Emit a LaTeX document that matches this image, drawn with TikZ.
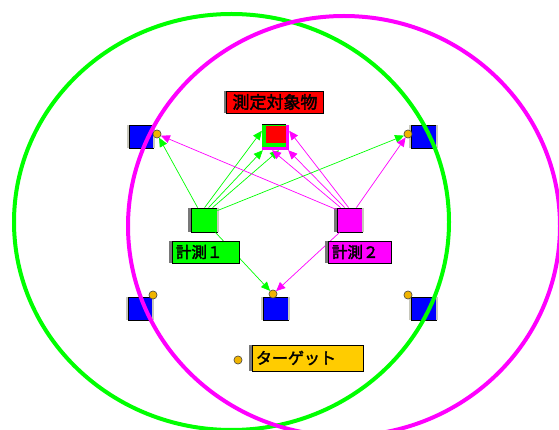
\documentclass[tikz,border=0pt]{standalone}
\usepackage{fontspec}
\usetikzlibrary{arrows.meta,calc}
\newfontfamily\jp[FakeBold=2.2]{Noto Sans CJK JP}
\definecolor{gr}{RGB}{0,255,0}
\definecolor{mag}{RGB}{255,0,255}
\definecolor{blu}{RGB}{0,0,255}
\definecolor{rd}{RGB}{255,0,0}
\definecolor{dotc}{RGB}{240,180,0}
\definecolor{tgt}{RGB}{255,204,0}
\definecolor{lgray}{RGB}{200,200,188}
\definecolor{dgray}{RGB}{120,120,120}
\begin{document}
\begin{tikzpicture}[x=1pt,y=-1pt,
  box/.style={rectangle, draw=black, line width=0.8pt, inner sep=0pt},
  blk/.style={box, fill=blu, minimum width=24pt, minimum height=23pt},
  lbl/.style={rectangle, draw=black, line width=0.8pt, inner ysep=0pt, inner xsep=4pt,
    minimum height=22pt, font=\jp\fontsize{15.5}{15.5}\selectfont, align=left, text=black},
  spot/.style={circle, fill=dotc, draw=black!70, line width=0.5pt, minimum size=8pt, inner sep=0pt},
  garr/.style={draw=gr, line width=0.7pt, -{Triangle[length=9pt,width=8pt]}},
  marr/.style={draw=mag, line width=0.7pt, -{Triangle[length=9pt,width=8pt]}},
  ring/.style={line width=4pt}
]
\useasboundingbox (0,0) rectangle (559,430);
\clip (0,0) rectangle (559,430);
\fill[white] (0,0) rectangle (559,430);

% reference blocks
\node[blk] (tl) at (141,136.5) {};
\node[blk, minimum width=25pt] (tr) at (423.5,136.5) {};
\node[blk] (bl) at (140,308.5) {};
\node[blk, minimum width=25pt] (bc) at (275.5,308.5) {};
\node[blk, minimum width=25pt] (br) at (423.5,308.5) {};
\foreach \n in {tl,tr,bl,bc,br}{
  \fill[lgray] ([xshift=-2pt]\n.north west) rectangle (\n.south west);
  \fill[lgray] (\n.north east) rectangle ([xshift=2pt]\n.south east);
}

% measured object
\node[rectangle, fill=mag, inner sep=0pt, minimum width=27pt, minimum height=25pt] (rs) at (275.5,137.5) {};
\fill[gr] (rs.north west) rectangle ($(rs.south east)+(-3,-3)$);
\fill[rd] ($(rs.north west)+(4,1)$) rectangle ($(rs.south east)+(-3,-7)$);
\draw[black, line width=0.8pt] (rs.north west) -- ($(rs.north east)+(-3,0)$);

% sensors
\node[box, fill=gr, minimum width=26pt, minimum height=24pt] (gs) at (204,220) {};
\node[box, fill=mag, minimum width=25pt, minimum height=24pt] (ms) at (349.5,220) {};
\foreach \n in {gs,ms}{
  \fill[dgray] ([xshift=-2.5pt]\n.north west) rectangle (\n.south west);
  \fill[lgray] (\n.north east) rectangle ([xshift=2pt]\n.south east);
}

% spots
\node[spot] (dtl) at (157,134) {};
\node[spot] (dtr) at (408,134) {};
\node[spot] (dbl) at (153,295) {};
\node[spot] (dbc) at (273,294) {};
\node[spot] (dbr) at (408,295) {};
\node[spot] (dtg) at (238,360) {};

% green measurement rays
\draw[garr] ($(gs.north west)+(7,0)$) -- (dtl);
\draw[garr] ($(gs.north west)+(14,0)$) -- ($(rs.north west)+(0,6)$);
\draw[garr] ($(gs.north west)+(18,0)$) -- ($(rs.south west)+(1,0)$);
\draw[garr] ($(gs.north west)+(22,0)$) -- ($(rs.south)+(3.5,0)$);
\draw[garr] ($(gs.north east)+(0,3)$) -- (dtr);
\draw[garr] ($(gs.south east)+(-2,0)$) -- (dbc);

% magenta measurement rays
\draw[marr] ($(ms.north west)+(0,2)$) -- (dtl);
\draw[marr] ($(ms.north west)+(4,0)$) -- ($(rs.south)+(-3.5,0)$);
\draw[marr] ($(ms.north west)+(8,0)$) -- ($(rs.south east)+(-1,0)$);
\draw[marr] ($(ms.north west)+(12,0)$) -- ($(rs.north east)+(0,6)$);
\draw[marr] ($(ms.north east)+(-6,0)$) -- (dtr);
\draw[marr] ($(ms.south west)+(3,0)$) -- (dbc);

% labels
\node[lbl, fill=rd, minimum width=97pt, align=center, font=\jp\fontsize{17}{17}\selectfont] (ttl) at (275,102) {測定対象物};
\node[lbl, fill=gr, text width=59pt] (l1) at (205.5,252) {計測１};
\node[lbl, fill=mag, text width=55pt] (l2) at (359.5,252) {計測２};
\node[lbl, fill=tgt, text width=103pt, minimum height=26pt, font=\jp\fontsize{16}{16}\selectfont] (lt) at (307.5,358) {ターゲット};
\foreach \n in {ttl,l1,l2,lt}{
  \fill[dgray] ([xshift=-2.5pt]\n.north west) rectangle (\n.south west);
}

% coverage ranges
\draw[ring, gr] (231.5,222) ellipse [x radius=217.5, y radius=208];
\draw[ring, mag] (344,226) ellipse [x radius=216, y radius=210];

% spots on top
\foreach \p in {(157,134),(408,134),(153,295),(273,294),(408,295),(238,360)}{
  \fill[dotc, draw=black!70, line width=0.5pt] \p circle [radius=4];
}
\end{tikzpicture}
\end{document}
